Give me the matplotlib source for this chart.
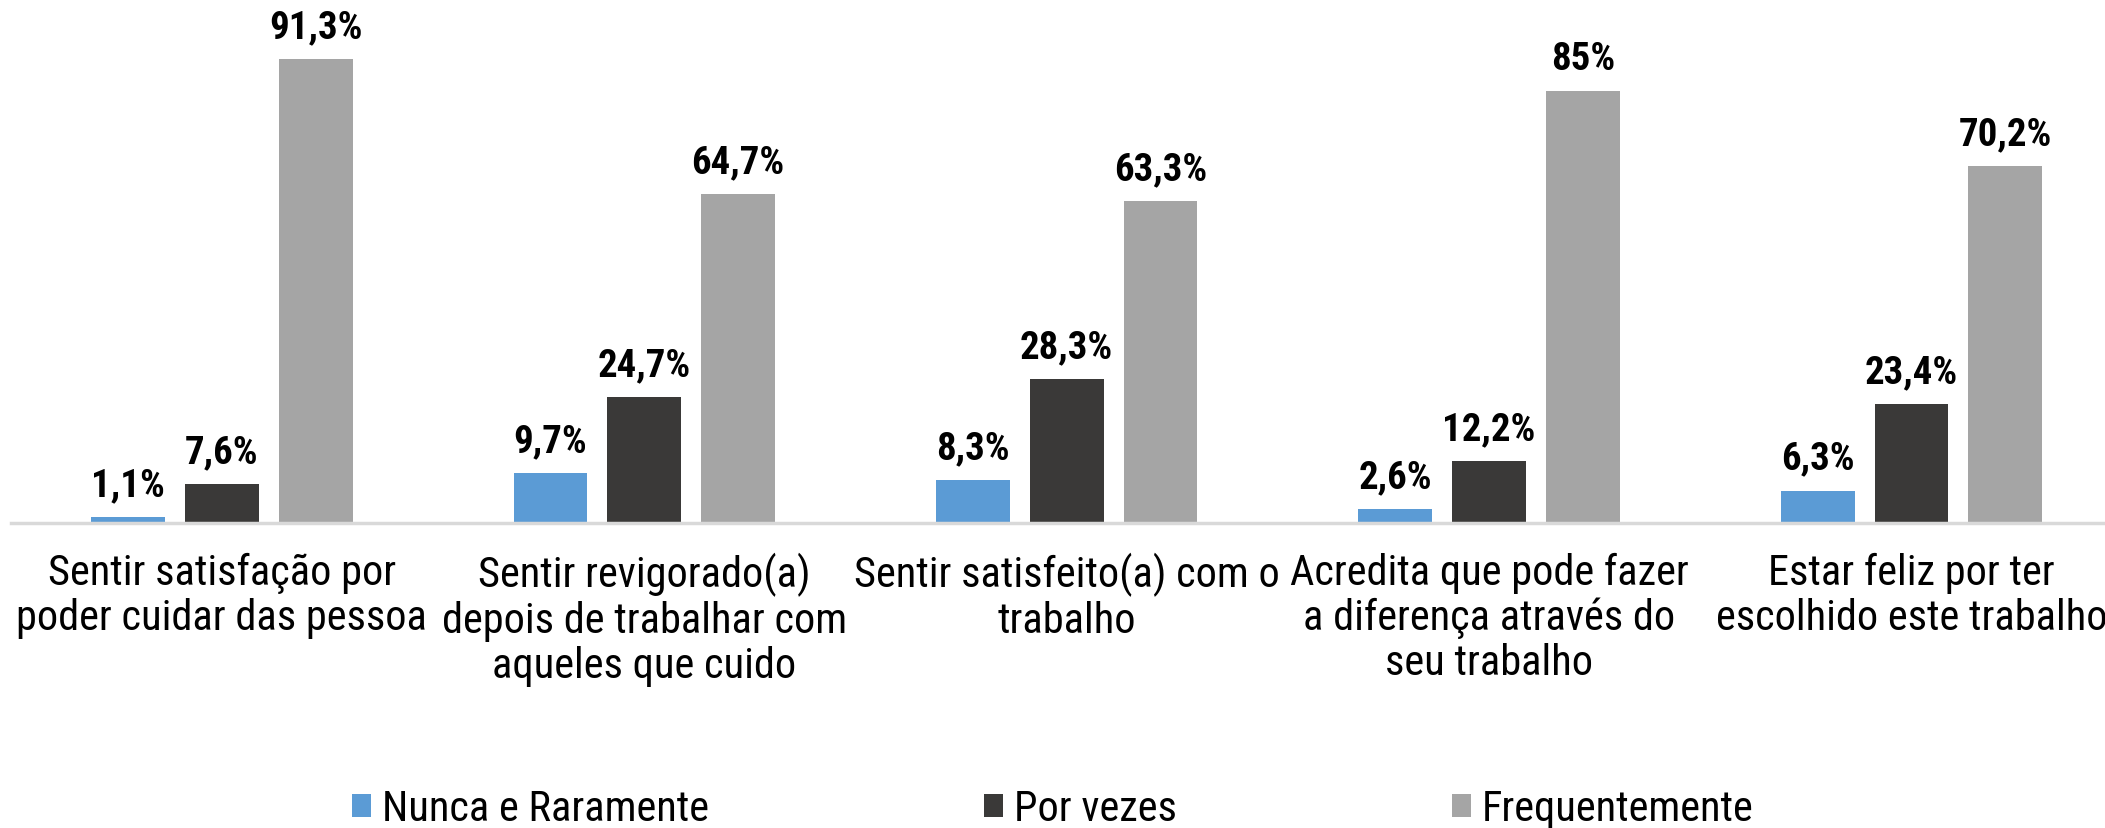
import matplotlib
matplotlib.use('Agg')
import matplotlib.pyplot as plt
from matplotlib import font_manager
import numpy as np

# Survey answers per statement (percent)
categories = [
    'Sentir satisfação por\npoder cuidar das pessoa',
    'Sentir revigorado(a)\ndepois de trabalhar com\naqueles que cuido',
    'Sentir satisfeito(a) com o\ntrabalho',
    'Acredita que pode fazer\na diferença através do\nseu trabalho',
    'Estar feliz por ter\nescolhido este trabalho',
]
series_names = ['Nunca e Raramente', 'Por vezes', 'Frequentemente']
nunca = [1.1, 9.7, 8.3, 2.6, 6.3]
por_vezes = [7.6, 24.7, 28.3, 12.2, 23.4]
frequentemente = [91.3, 64.7, 63.3, 85, 70.2]

colors = ['#5B9BD5', '#3A3938', '#A5A5A5']

# pick a narrow sans face if one is around
installed = {f.name for f in font_manager.fontManager.ttflist}
family = 'DejaVu Sans'
for name in ['Roboto Condensed', 'Liberation Sans Narrow', 'Open Sans Condensed', 'Roboto']:
    if name in installed:
        family = name
        break
plt.rcParams['font.family'] = [family, 'DejaVu Sans']


def fmt(v):
    s = f'{v:.1f}'.rstrip('0').rstrip('.')
    return s.replace('.', ',') + '%'


fig = plt.figure(figsize=(21.05, 8.29), dpi=100)
ax = fig.add_axes([10.7 / 2105, 0.3684, 2112 / 2105, 0.612])

x = np.arange(len(categories))
width = 0.175
step = 0.222
for i, (vals, color, name) in enumerate(zip([nunca, por_vezes, frequentemente], colors, series_names)):
    bars = ax.bar(x + (i - 1) * step, vals, width, color=color, label=name, zorder=2)
    for b, v in zip(bars, vals):
        ax.annotate(fmt(v), (b.get_x() + b.get_width() / 2, v), xytext=(0, 10),
                    textcoords='offset points', ha='center', va='bottom',
                    fontsize=28, fontweight='bold', color='black')

ax.set_xlim(-0.5, len(categories) - 0.5)
ax.set_ylim(0, 100)
ax.set_yticks([])
ax.set_xticks(x)
ax.set_xticklabels(categories, fontsize=30.5, linespacing=1.12, ha='center')
ax.tick_params(axis='x', length=0, pad=21)
for side in ['top', 'right', 'left']:
    ax.spines[side].set_visible(False)
ax.spines['bottom'].set_color('#D9D9D9')
ax.spines['bottom'].set_linewidth(2.5)

fig.legend(loc='center', bbox_to_anchor=(0.5, 0.023), ncol=3, frameon=False,
           fontsize=30.5, handlelength=0.45, handleheight=0.45, handletextpad=0.25,
           columnspacing=6.5)

fig.savefig('out.png', dpi=100)
